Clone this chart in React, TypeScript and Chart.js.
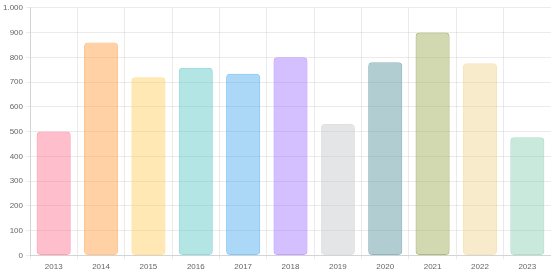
import React, { useEffect, useRef } from "react";
import { Chart, registerables } from "chart.js";

Chart.register(...registerables);

const years = ["2013", "2014", "2015", "2016", "2017", "2018", "2019", "2020", "2021", "2022", "2023"];
const values = [500, 860, 720, 758, 734, 800, 531, 780, 900, 776, 477];
const fillColors = [
  "rgba(255,99,132,0.42)",
  "rgba(255,159,64,0.48)",
  "rgba(255,205,86,0.45)",
  "rgba(75,192,192,0.42)",
  "rgba(54,162,235,0.42)",
  "rgba(153,102,255,0.42)",
  "rgba(201,203,207,0.5)",
  "rgba(95,150,160,0.48)",
  "rgba(160,175,90,0.48)",
  "rgba(240,210,140,0.45)",
  "rgba(120,200,170,0.4)",
];
const borderColors = [
  "rgba(255,99,132,0.6)",
  "rgba(255,159,64,0.6)",
  "rgba(255,205,86,0.6)",
  "rgba(75,192,192,0.6)",
  "rgba(54,162,235,0.6)",
  "rgba(153,102,255,0.6)",
  "rgba(201,203,207,0.6)",
  "rgba(95,150,160,0.7)",
  "rgba(140,155,70,0.7)",
  "rgba(240,210,140,0.6)",
  "rgba(120,200,170,0.6)",
];
const yMax = 1000;
const yStep = 100;

export default function App() {
  const ref = useRef<HTMLCanvasElement>(null);
  useEffect(() => {
    document.body.style.margin = "0";
    const font = { size: 8, family: "'Liberation Sans', Arial, sans-serif" };
    const chart = new Chart(ref.current!, {
      type: "bar",
      data: {
        labels: years,
        datasets: [
          {
            data: values,
            backgroundColor: fillColors,
            borderColor: borderColors,
            borderWidth: 1,
            borderRadius: 4,
            borderSkipped: false,
          },
        ],
      },
      options: {
        animation: false,
        responsive: false,
        locale: "de-DE",
        plugins: { legend: { display: false }, tooltip: { enabled: false } },
        layout: { padding: { top: 3, right: 0, left: 0, bottom: 3 } },
        scales: {
          x: {
            ticks: { color: "#666", font },
            grid: { color: "rgba(0,0,0,0.08)", tickLength: 4 },
          },
          y: {
            min: 0,
            max: yMax,
            ticks: { stepSize: yStep, color: "#666", font },
            grid: { color: "rgba(0,0,0,0.08)", tickLength: 4 },
          },
        },
      },
    });
    return () => chart.destroy();
  }, []);
  return <canvas ref={ref} width={551} height={278} style={{ display: "block" }} />;
}
